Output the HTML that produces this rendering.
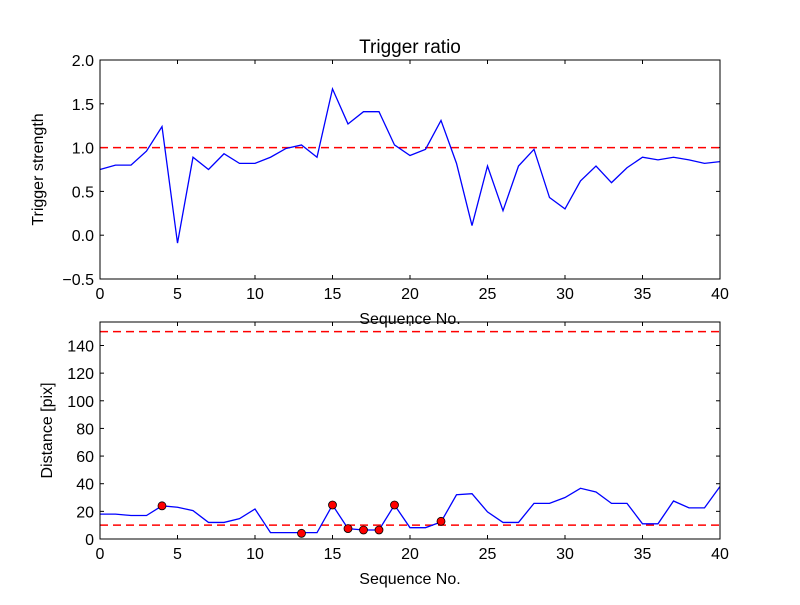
<!DOCTYPE html>
<html><head><meta charset="utf-8"><style>
body{margin:0;background:#fff}
text{font-family:"Liberation Sans","DejaVu Sans",sans-serif;fill:#000}
</style></head><body>
<svg id="fig" width="800" height="600" xmlns="http://www.w3.org/2000/svg">
<rect width="800" height="600" fill="#fff"/>
</svg>
<script>
const seq = Array.from({length:41},(_,i)=>i);
const ratio = [0.75,0.8,0.8,0.96,1.24,-0.09,0.89,0.75,0.93,0.82,0.82,0.89,0.99,1.03,0.89,1.67,1.27,1.41,1.41,1.03,0.91,0.98,1.31,0.82,0.11,0.79,0.28,0.79,0.98,0.43,0.30,0.62,0.79,0.60,0.77,0.89,0.86,0.89,0.86,0.82,0.84];
const distance = [18,18,17,17,24,23,20.5,12,12,14.7,21.7,4.6,4.6,4.6,4.6,24.6,7.5,6.5,6.5,24.6,8.2,8.2,12.3,32,32.8,19.6,12,12,25.8,25.8,30,36.7,34,25.8,25.8,11,11,27.5,22.5,22.5,38];
const flagX = [4,13,15,16,17,18,19,22];
const flagY = [24,4.1,24.6,7.5,6.5,6.5,24.6,12.8];
const ratioThreshold = 1.0;
const distThresholds = [150,10];
const xTicks = [0,5,10,15,20,25,30,35,40];
const yTicksTop = [-0.5,0.0,0.5,1.0,1.5,2.0];
const yTicksBot = [0,20,40,60,80,100,120,140];

const NS="http://www.w3.org/2000/svg";
const svg=document.getElementById('fig');
function mk(tag,attrs,parent){const e=document.createElementNS(NS,tag);for(const k in attrs)e.setAttribute(k,attrs[k]);(parent||svg).appendChild(e);return e;}
const X0=100,X1=720;
const sx=v=>X0+(v-0)/(40-0)*(X1-X0);

function panel(name,top,bot,ymin,ymax,yt,fmt,ylabel,title,ylx){
  const g=mk('g',{});
  
  
  const sy=v=>bot-(v-ymin)/(ymax-ymin)*(bot-top);
  xTicks.forEach(t=>{
    mk('line',{x1:sx(t),x2:sx(t),y1:bot,y2:bot-4,stroke:'#000'},g);
    mk('line',{x1:sx(t),x2:sx(t),y1:top,y2:top+4,stroke:'#000'},g);
    const tx=mk('text',{x:sx(t),y:bot+20,'text-anchor':'middle','font-size':16},g);tx.textContent=t;
    
    
  });
  yt.forEach(t=>{
    mk('line',{x1:X0,x2:X0+4,y1:sy(t),y2:sy(t),stroke:'#000'},g);
    mk('line',{x1:X1,x2:X1-4,y1:sy(t),y2:sy(t),stroke:'#000'},g);
    const tx=mk('text',{x:X0-6,y:sy(t)+6,'text-anchor':'end','font-size':16},g);tx.textContent=fmt(t);
    
    
  });
  const xl=mk('text',{x:410,y:bot+45,'text-anchor':'middle','font-size':16},g);xl.textContent='Sequence No.';
  
  
  const yl=mk('text',{x:0,y:0,'text-anchor':'middle','font-size':16,transform:`translate(${ylx},${(top+bot)/2}) rotate(-90)`},g);yl.textContent=ylabel;
  
  
  if(title){const tt=mk('text',{x:410,y:top-7,'text-anchor':'middle','font-size':19},g);tt.textContent=title;
    
    }
  return {g,sy};
}
// top
const P1=panel('top-panel',60,279,-0.5,2.0,yTicksTop,t=>t.toFixed(1).replace('-','\u2212'),'Trigger strength','Trigger ratio',43);
const th=mk('line',{x1:X0,x2:X1,y1:P1.sy(ratioThreshold),y2:P1.sy(ratioThreshold),stroke:'#ff0000','stroke-width':1.5,'stroke-dasharray':'8,5'},P1.g);


const l1=mk('polyline',{points:seq.map((x,i)=>sx(x)+','+P1.sy(ratio[i])).join(' '),fill:'none',stroke:'blue','stroke-width':1.3},P1.g);


mk('rect',{x:X0,y:60,width:X1-X0,height:219,fill:'none',stroke:'#000'},P1.g);
// bottom
const P2=panel('bottom-panel',322,539,0,157,yTicksBot,t=>t,'Distance [pix]',null,52);
distThresholds.forEach(v=>{
  const d=mk('line',{x1:X0,x2:X1,y1:P2.sy(v),y2:P2.sy(v),stroke:'#ff0000','stroke-width':1.5,'stroke-dasharray':'8,5'},P2.g);
  
  
});
const l2=mk('polyline',{points:seq.map((x,i)=>sx(x)+','+P2.sy(distance[i])).join(' '),fill:'none',stroke:'blue','stroke-width':1.3},P2.g);


flagX.forEach((x,i)=>{
  const c=mk('circle',{cx:sx(x),cy:P2.sy(flagY[i]),r:4,fill:'red',stroke:'#000','stroke-width':0.8},P2.g);
  
  
});
mk('rect',{x:X0,y:322,width:X1-X0,height:217,fill:'none',stroke:'#000'},P2.g);
</script>
</body></html>
